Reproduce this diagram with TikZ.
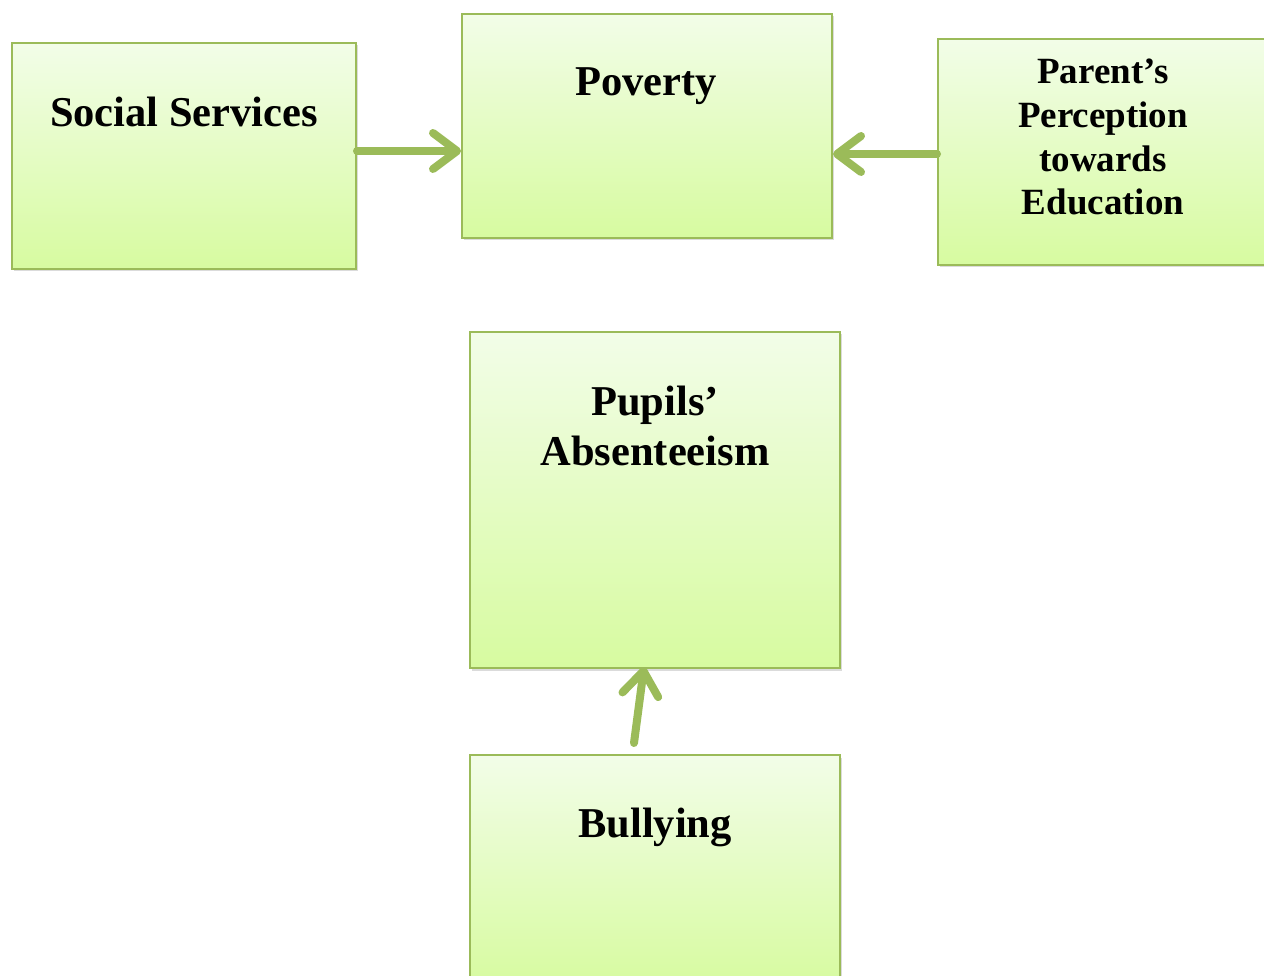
\documentclass[tikz,border=0pt]{standalone}
\usepackage{fontspec}
\setmainfont{Liberation Serif}
\usetikzlibrary{arrows.meta,shadows}
\definecolor{boxtop}{HTML}{F2FDE8}
\definecolor{boxbot}{HTML}{D7FBA0}
\definecolor{boxline}{HTML}{9BBB59}
\tikzset{
  box/.style={draw=boxline, line width=2pt, top color=boxtop, bottom color=boxbot,
    inner sep=0pt, anchor=north west,
    drop shadow={shadow xshift=1.5pt, shadow yshift=-2.5pt, opacity=0.35, fill=black!40}},
  lbl/.style={anchor=base, align=center, inner sep=0pt, font=\bfseries\fontsize{42.5}{50}\selectfont},
  lblsmall/.style={anchor=base, align=center, inner sep=0pt, font=\bfseries\fontsize{37}{43.7}\selectfont},
  arr/.style={draw=boxline, line width=8pt, line cap=round,
    -{Straight Barb[length=24pt,width=36pt,round]}}
}
\begin{document}
\begin{tikzpicture}[x=1pt,y=-1pt]
\useasboundingbox (0,0) rectangle (1264,976);
\node[box, minimum width=344pt, minimum height=226pt] (ss) at (11,42) {};
\node[box, minimum width=370pt, minimum height=224pt] (pov) at (461,13) {};
\node[box, minimum width=344pt, minimum height=226pt] (pp) at (937,38) {};
\node[box, minimum width=370pt, minimum height=336pt] (pup) at (469,331) {};
\node[box, minimum width=370pt, minimum height=230pt] (bul) at (469,754) {};

\node[lbl] (tss) at (184,127) {Social Services};
\node[lbl] (tpov) at (646,96) {Poverty};
\node[lblsmall, anchor=north] (tpp) at (1103,59) {Parent’s\\Perception\\towards\\Education};
\node[lbl, anchor=north] (tpup) at (655,386) {Pupils’\\Absenteeism};
\node[lbl] (tbul) at (655,837) {Bullying};

\draw[arr] ([yshift=5pt]ss.east) -- ([yshift=5pt]ss.east -| pov.west);
\draw[arr] ([yshift=-2pt]pp.west) -- ([yshift=-2pt]pp.west -| pov.east);
\draw[arr] ([xshift=-21pt,yshift=11pt]bul.north) -- ([xshift=-11pt,yshift=2pt]pup.south);
\end{tikzpicture}
\end{document}
